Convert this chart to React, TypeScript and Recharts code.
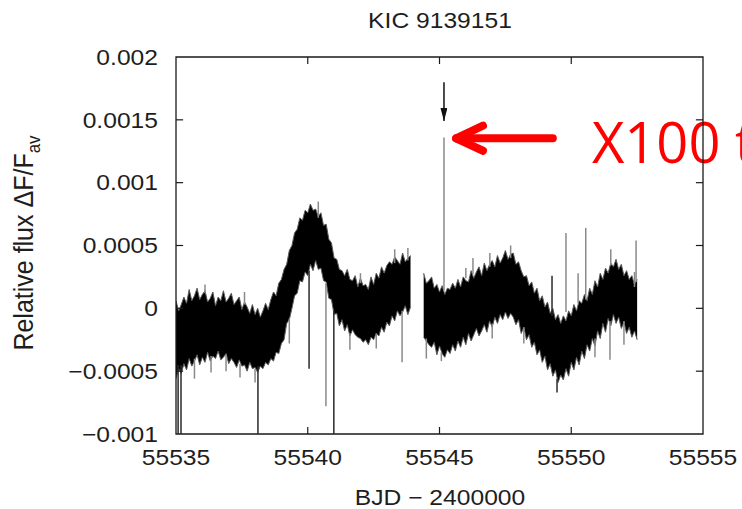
import {
  ComposedChart,
  Area,
  Scatter,
  ErrorBar,
  XAxis,
  YAxis,
  ReferenceArea,
  ReferenceLine,
} from 'recharts'

const W = 742
const H = 509
const FONT = '"Liberation Sans", Arial, Helvetica, sans-serif'
const INK = '#1e1e1e'
const STRETCH = 1.12
const FLUX = 1e-4 // band and spike values are stored in units of 1e-4

const xTicks = [55535, 55540, 55545, 55550, 55555]
const yTicks = [-0.001, -0.0005, 0, 0.0005, 0.001, 0.0015, 0.002]

// first block of photometry, 0.1 d bins: upper / lower edge of the scatter band
const blockADays = [
  55535.0, 55535.1, 55535.2, 55535.3, 55535.4, 55535.5, 55535.6, 55535.7, 55535.8, 55535.9,
  55536.0, 55536.1, 55536.2, 55536.3, 55536.4, 55536.5, 55536.6, 55536.7, 55536.8, 55536.9,
  55537.0, 55537.1, 55537.2, 55537.3, 55537.4, 55537.5, 55537.6, 55537.7, 55537.8, 55537.9,
  55538.0, 55538.1, 55538.2, 55538.3, 55538.4, 55538.5, 55538.6, 55538.7, 55538.8, 55538.9,
  55539.0, 55539.1, 55539.2, 55539.3, 55539.4, 55539.5, 55539.6, 55539.7, 55539.8, 55539.9,
  55540.0, 55540.1, 55540.2, 55540.3, 55540.4, 55540.5, 55540.6, 55540.7, 55540.8, 55540.9,
  55541.0, 55541.1, 55541.2, 55541.3, 55541.4, 55541.5, 55541.6, 55541.7, 55541.8, 55541.9,
  55542.0, 55542.1, 55542.2, 55542.3, 55542.4, 55542.5, 55542.6, 55542.7, 55542.8, 55542.9,
  55543.0, 55543.1, 55543.2, 55543.3, 55543.4, 55543.5, 55543.6, 55543.7, 55543.8, 55543.9,
]
const blockAHigh = [
  0.6, -0.2, 0.3, 0.9, 0.4, 1.5, 0.6, 1.0, 1.6, 0.7,
  1.1, 1.4, 0.5, 0.8, 1.3, 0.2, 0.9, 0.6, 1.4, 0.5,
  0.8, 1.2, 0.3, 0.6, 0.9, -0.1, 0.5, 0.1, -0.4, 0.3,
  -0.5, 0.0, -0.7, -0.2, 0.4, -0.1, 0.7, 1.3, 1.0, 2.0,
  2.3, 3.1, 3.5, 4.6, 5.0, 6.0, 6.3, 7.2, 7.0, 7.8,
  7.6, 8.3, 7.8, 7.9, 7.3, 7.6, 6.6, 6.7, 5.5, 5.2,
  4.0, 3.9, 3.1, 3.0, 2.6, 3.1, 2.3, 2.2, 2.6, 1.7,
  2.4, 1.8, 1.9, 1.5, 2.5, 1.9, 2.8, 2.4, 3.3, 2.8,
  3.4, 3.7, 3.5, 4.1, 3.8, 3.5, 4.4, 3.7, 4.0, 4.2,
]
const blockALow = [
  -5.6, -4.8, -5.2, -4.4, -4.9, -4.0, -4.6, -4.2, -3.7, -4.5,
  -3.9, -4.3, -3.5, -4.2, -3.8, -4.0, -3.4, -4.1, -3.9, -3.6,
  -4.4, -4.0, -4.3, -4.7, -4.1, -4.6, -4.5, -5.0, -4.3, -4.8,
  -4.7, -5.1, -4.6, -4.8, -4.3, -4.5, -4.0, -4.2, -3.5, -3.6,
  -2.8, -2.5, -1.2, -0.9, 0.0, 1.0, 1.2, 2.2, 2.1, 2.9,
  2.6, 3.5, 3.0, 3.8, 3.1, 3.2, 2.2, 2.1, 0.8, 0.7,
  -0.5, -0.4, -1.4, -0.9, -1.8, -1.3, -2.2, -1.7, -2.1, -2.3,
  -2.4, -2.7, -2.5, -2.9, -2.3, -2.5, -2.0, -2.2, -1.5, -1.9,
  -1.1, -1.4, -0.6, -1.0, -0.2, -0.6, -0.3, 0.2, -0.5, 0.1,
]

// second block, after the data gap
const blockBDays = [
  55544.4, 55544.5, 55544.6, 55544.7, 55544.8, 55544.9, 55545.0, 55545.1, 55545.2, 55545.3,
  55545.4, 55545.5, 55545.6, 55545.7, 55545.8, 55545.9, 55546.0, 55546.1, 55546.2, 55546.3,
  55546.4, 55546.5, 55546.6, 55546.7, 55546.8, 55546.9, 55547.0, 55547.1, 55547.2, 55547.3,
  55547.4, 55547.5, 55547.6, 55547.7, 55547.8, 55547.9, 55548.0, 55548.1, 55548.2, 55548.3,
  55548.4, 55548.5, 55548.6, 55548.7, 55548.8, 55548.9, 55549.0, 55549.1, 55549.2, 55549.3,
  55549.4, 55549.5, 55549.6, 55549.7, 55549.8, 55549.9, 55550.0, 55550.1, 55550.2, 55550.3,
  55550.4, 55550.5, 55550.6, 55550.7, 55550.8, 55550.9, 55551.0, 55551.1, 55551.2, 55551.3,
  55551.4, 55551.5, 55551.6, 55551.7, 55551.8, 55551.9, 55552.0, 55552.1, 55552.2, 55552.3,
  55552.4, 55552.5,
]
const blockBHigh = [
  2.8, 2.0, 2.2, 2.5, 1.6, 1.9, 1.3, 1.8, 1.1, 1.6,
  1.5, 2.0, 1.6, 2.3, 1.7, 2.5, 2.2, 2.1, 3.0, 2.4,
  2.9, 3.3, 2.6, 3.6, 3.0, 3.5, 3.8, 3.3, 4.2, 3.6,
  4.0, 4.6, 3.9, 4.3, 4.4, 3.5, 3.7, 3.0, 2.5, 2.6,
  1.8, 2.1, 1.2, 1.6, 0.6, 1.0, 0.1, 0.5, -0.4, 0.0,
  -0.9, -0.5, -1.2, -0.6, -1.0, -0.2, -0.6, 0.3, -0.2, 0.6,
  0.4, 1.1, 0.6, 1.6, 1.1, 2.2, 1.7, 2.8, 2.3, 3.2,
  2.8, 3.6, 3.3, 3.9, 3.1, 3.5, 2.6, 3.0, 2.3, 2.6,
  1.9, 2.3,
]
const blockBLow = [
  -2.3, -2.6, -2.9, -3.1, -2.7, -3.7, -3.0, -3.6, -3.9, -3.3,
  -3.6, -2.9, -3.4, -2.6, -3.1, -2.3, -2.9, -2.0, -2.6, -2.1,
  -1.6, -2.2, -1.8, -1.3, -1.9, -1.0, -1.5, -0.7, -1.2, -0.5,
  -0.9, -0.3, -0.8, -0.4, -0.7, -1.3, -0.9, -2.0, -1.5, -2.5,
  -2.1, -3.1, -2.7, -3.7, -3.3, -4.3, -3.8, -4.9, -4.4, -5.4,
  -4.9, -5.9, -5.3, -5.7, -4.8, -5.4, -4.3, -4.9, -3.9, -4.5,
  -3.4, -4.0, -2.9, -3.4, -2.4, -3.0, -1.8, -2.4, -1.2, -1.9,
  -0.8, -1.4, -0.5, -1.2, -0.7, -1.6, -1.1, -2.0, -1.5, -2.3,
  -1.8, -2.5,
]

// single outlying points: drawn from the band edge out to the outlier value
const spikeDays = [
  55535.08, 55535.19, 55536.33, 55537.43, 55538.0, 55538.11, 55540.05, 55540.69,
  55540.99, 55543.58, 55545.07, 55549.46, 55551.47, 55545.17, 55546.27, 55546.91,
  55549.27, 55549.8, 55550.26, 55550.55, 55551.5, 55543.3, 55552.46,
  55535.7, 55536.1, 55536.9, 55537.6, 55539.3, 55540.4, 55541.6, 55542.0, 55542.6,
  55543.8, 55544.5, 55546.0, 55547.0, 55547.7, 55548.2, 55550.9, 55552.0, 55552.4,
]
const spikeFrom = [
  -4.5, -4.5, -3.8, -4.4, -4.8, -4.6, 3.0, 2.0,
  -0.2, -0.2, -3.5, -5.6, -1.0, 1.4, 2.7, 3.3,
  -0.6, -0.3, 0.4, 0.7, 3.4, 3.6, 2.1,
  -4.0, 1.2, -3.7, 0.3, -0.8, 7.2, -2.0, 2.0, -2.0,
  3.8, -2.4, 2.4, -1.2, 4.0, -1.5, -2.4, -1.0, 1.7,
]
const spikeTo = [
  -10, -10, -5.1, -5.5, -5.9, -10, -4.8, -7.8,
  -10, -4.3, -4.2, -6.7, -4.1, 13.6, 4.0, 4.4,
  2.6, 6.0, 2.8, 6.4, 4.7, 4.7, 5.4,
  -5.6, 1.9, -5.0, 1.3, -2.8, 8.5, -3.3, 2.8, -3.2,
  4.8, -4.0, 3.2, -2.4, 5.0, -2.8, -3.9, -2.9, 2.9,
]
const spikeTone = [
  'dark', 'dark', 'light', 'light', 'light', 'dark', 'dark', 'light',
  'dark', 'light', 'light', 'dark', 'light', 'light', 'light', 'light',
  'dark', 'light', 'light', 'light', 'light', 'light', 'light',
  'light', 'light', 'light', 'light', 'light', 'light', 'light', 'light', 'light',
  'light', 'light', 'light', 'light', 'light', 'light', 'light', 'light', 'light',
]

const bandRows = [
  ...blockADays.map((day, i) => ({ day, band: [blockALow[i] * FLUX, blockAHigh[i] * FLUX] })),
  { day: 55544.15, band: null },
  ...blockBDays.map((day, i) => ({ day, band: [blockBLow[i] * FLUX, blockBHigh[i] * FLUX] })),
]

const spikeRows = spikeDays.map((day, i) => {
  const lo = Math.min(spikeFrom[i], spikeTo[i]) * FLUX
  const hi = Math.max(spikeFrom[i], spikeTo[i]) * FLUX
  return { day, base: lo, err: [0, hi - lo], tone: spikeTone[i] }
})
const lightSpikes = spikeRows.filter(r => r.tone === 'light')
const darkSpikes = spikeRows.filter(r => r.tone === 'dark')

const fmtFlux = (v: number) => (v === 0 ? '0' : String(+v.toFixed(4)).replace('-', '\u2212'))

// gnuplot style inward ticks, ~7px long
const TICK_DX = 0.27
const TICK_DY = 0.000056
const innerX = xTicks.slice(1, -1)
const innerY = yTicks.slice(1, -1)

// arrow pointing at the flare, in data coordinates
const ARROW_Y = 0.001353

// eslint-disable-next-line @typescript-eslint/no-explicit-any
function XTick({ x, y, payload }: any) {
  return (
    <text
      transform={`translate(${x},${y}) scale(${STRETCH},1)`}
      textAnchor="middle"
      dy="0.71em"
      fontSize={22}
      fontFamily={FONT}
      fill={INK}
    >
      {payload.value}
    </text>
  )
}

// eslint-disable-next-line @typescript-eslint/no-explicit-any
function YTick({ x, y, payload }: any) {
  return (
    <text
      transform={`translate(${x},${y}) scale(${STRETCH},1)`}
      textAnchor="end"
      dy="0.355em"
      fontSize={22}
      fontFamily={FONT}
      fill={INK}
    >
      {fmtFlux(payload.value)}
    </text>
  )
}

const noDot = () => <g />

export default function App() {
  return (
    <div
      style={{
        position: 'absolute',
        left: 0,
        top: 0,
        width: W,
        height: H,
        overflow: 'hidden',
        background: '#fff',
      }}
    >
      <svg width={W} height={H} style={{ position: 'absolute', left: 0, top: 0 }}>
        <defs>
          <marker
            id="flare-head"
            viewBox="0 0 13 7"
            refX={13}
            refY={3.5}
            markerWidth={13}
            markerHeight={7}
            markerUnits="userSpaceOnUse"
            orient="auto"
          >
            <path d="M0,0 L13,3.5 L0,7 z" fill="#111" />
          </marker>
        </defs>
        <text
          transform={`translate(440,28) scale(${STRETCH},1)`}
          textAnchor="middle"
          fontSize={22}
          fontFamily={FONT}
          fill={INK}
        >
          KIC 9139151
        </text>
        <text
          transform={`translate(440,505) scale(${STRETCH},1)`}
          textAnchor="middle"
          fontSize={22}
          fontFamily={FONT}
          fill={INK}
        >
          BJD {'\u2212'} 2400000
        </text>
        <text
          transform={`translate(33,243) rotate(-90) scale(1,${STRETCH})`}
          textAnchor="middle"
          fontSize={25}
          fontFamily={FONT}
          fill={INK}
        >
          Relative flux {'\u0394'}F/F
          <tspan fontSize={17} dy={6}>
            av
          </tspan>
        </text>
        <text x={592} y={163} fontSize={56} fontFamily='"Open Sans", sans-serif' fill="#ff0000">
          X100 times
        </text>
      </svg>

      <div style={{ position: 'absolute', left: 0, top: 0 }}>
        <ComposedChart
          width={W}
          height={H}
          data={bandRows}
          margin={{ top: 57, right: 39, bottom: 35, left: 116 }}
        >
          <XAxis
            dataKey="day"
            type="number"
            domain={[55535, 55555]}
            ticks={xTicks}
            interval={0}
            allowDataOverflow
            axisLine={false}
            tickLine={false}
            tickSize={0}
            tickMargin={15}
            height={40}
            tick={<XTick />}
          />
          <YAxis
            type="number"
            domain={[-0.001, 0.002]}
            ticks={yTicks}
            interval={0}
            allowDataOverflow
            axisLine={false}
            tickLine={false}
            tickSize={0}
            tickMargin={18}
            width={60}
            tick={<YTick />}
          />
          <Scatter data={lightSpikes} dataKey="base" shape={noDot} isAnimationActive={false}>
            <ErrorBar dataKey="err" direction="y" width={0} stroke="#8a8a8a" strokeWidth={1.5} isAnimationActive={false} />
          </Scatter>
          <Scatter data={darkSpikes} dataKey="base" shape={noDot} isAnimationActive={false}>
            <ErrorBar dataKey="err" direction="y" width={0} stroke="#2a2a2a" strokeWidth={1.5} isAnimationActive={false} />
          </Scatter>
          <Area
            dataKey="band"
            type="linear"
            fill="#000"
            fillOpacity={1}
            stroke="#5a5a5a"
            strokeWidth={1}
            connectNulls={false}
            dot={false}
            activeDot={false}
            isAnimationActive={false}
          />
          <ReferenceArea
            x1={55535}
            x2={55555}
            y1={-0.001}
            y2={0.002}
            fill="none"
            stroke="#1a1a1a"
            strokeWidth={1.3}
          />
          {innerX.map(t => (
            <ReferenceLine
              key={`xb-${t}`}
              segment={[{ x: t, y: -0.001 }, { x: t, y: -0.001 + TICK_DY }]}
              stroke="#1a1a1a"
              strokeWidth={1.2}
            />
          ))}
          {innerX.map(t => (
            <ReferenceLine
              key={`xt-${t}`}
              segment={[{ x: t, y: 0.002 }, { x: t, y: 0.002 - TICK_DY }]}
              stroke="#1a1a1a"
              strokeWidth={1.2}
            />
          ))}
          {innerY.map(t => (
            <ReferenceLine
              key={`yl-${t}`}
              segment={[{ x: 55535, y: t }, { x: 55535 + TICK_DX, y: t }]}
              stroke="#1a1a1a"
              strokeWidth={1.2}
            />
          ))}
          {innerY.map(t => (
            <ReferenceLine
              key={`yr-${t}`}
              segment={[{ x: 55555, y: t }, { x: 55555 - TICK_DX, y: t }]}
              stroke="#1a1a1a"
              strokeWidth={1.2}
            />
          ))}
          <ReferenceLine
            segment={[{ x: 55545.17, y: 0.0018 }, { x: 55545.17, y: 0.00149 }]}
            stroke="#111"
            strokeWidth={1.5}
            markerEnd="url(#flare-head)"
          />
          <ReferenceLine
            segment={[{ x: 55549.3, y: ARROW_Y }, { x: 55545.78, y: ARROW_Y }]}
            stroke="#ff0000"
            strokeWidth={8}
            strokeLinecap="round"
          />
          <ReferenceLine
            segment={[{ x: 55545.63, y: ARROW_Y }, { x: 55546.65, y: 0.001453 }]}
            stroke="#ff0000"
            strokeWidth={8}
            strokeLinecap="round"
          />
          <ReferenceLine
            segment={[{ x: 55545.63, y: ARROW_Y }, { x: 55546.65, y: 0.001254 }]}
            stroke="#ff0000"
            strokeWidth={8}
            strokeLinecap="round"
          />
        </ComposedChart>
      </div>
    </div>
  )
}
